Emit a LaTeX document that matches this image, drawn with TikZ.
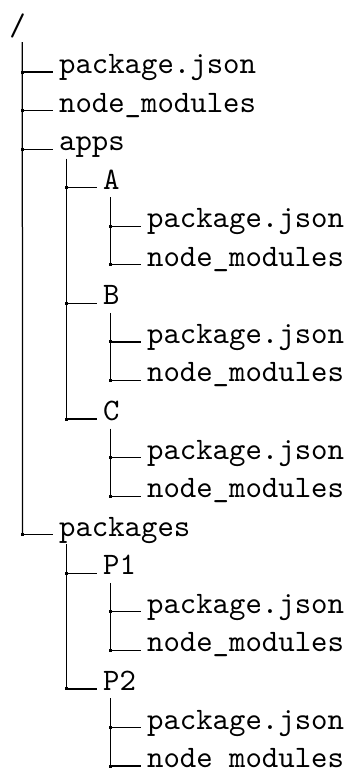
\documentclass[tikz,border=0pt]{standalone}
\usepackage{fontspec}
\usetikzlibrary{calc}
\begin{document}
\begin{tikzpicture}[x=0.32pt,y=-0.32pt,
  item/.style={anchor=base west,inner xsep=1.6pt,inner ysep=0pt,font=\ttfamily},
  branch/.style={line width=0.4pt}]
\useasboundingbox (0,0) rectangle (347,769);
% rows 38.56 apart, text x per level: 53.5 / 97.5 / 141.5
\node[item] (root) at (3.8,35) {/};
\node[item] (pj) at (53.5,{73.5+38.56*0}) {package.json};
\node[item] (nm) at (53.5,{73.5+38.56*1}) {node\_modules};
\node[item] (apps) at (53.5,{73.5+38.56*2}) {apps};
\node[item] (A) at (97.5,{73.5+38.56*3}) {A};
\node[item] (pjA) at (141.5,{73.5+38.56*4}) {package.json};
\node[item] (nmA) at (141.5,{73.5+38.56*5}) {node\_modules};
\node[item] (B) at (97.5,{73.5+38.56*6}) {B};
\node[item] (pjB) at (141.5,{73.5+38.56*7}) {package.json};
\node[item] (nmB) at (141.5,{73.5+38.56*8}) {node\_modules};
\node[item] (C) at (97.5,{73.5+38.56*9}) {C};
\node[item] (pjC) at (141.5,{73.5+38.56*10}) {package.json};
\node[item] (nmC) at (141.5,{73.5+38.56*11}) {node\_modules};
\node[item] (pkgs) at (53.5,{73.5+38.56*12}) {packages};
\node[item] (P1) at (97.5,{73.5+38.56*13}) {P1};
\node[item] (pjP1) at (141.5,{73.5+38.56*14}) {package.json};
\node[item] (nmP1) at (141.5,{73.5+38.56*15}) {node\_modules};
\node[item] (P2) at (97.5,{73.5+38.56*16}) {P2};
\node[item] (pjP2) at (141.5,{73.5+38.56*17}) {package.json};
\node[item] (nmP2) at (141.5,{73.5+38.56*18}) {node\_modules};
% branch stubs with junction dots
\foreach \n in {pj,nm,apps,A,pjA,nmA,B,pjB,nmB,C,pjC,nmC,pkgs,P1,pjP1,nmP1,P2,pjP2,nmP2}{
  \coordinate (d-\n) at ($(\n.base west)+(-31,-1.5)$);
  \draw[branch] (d-\n) -- ($(\n.base west)+(0,-1.5)$);
  \fill (d-\n) +(-1.5,-1.5) rectangle +(1.5,1.5);
}
% trunks
\draw[branch] ($(root.base west)+(18.5,7)$) -- (d-pkgs);
\draw[branch] ($(apps.base west)+(13,8)$) -- (d-C);
\draw[branch] ($(pkgs.base west)+(13,8)$) -- (d-P2);
\foreach \p/\q in {A/nmA,B/nmB,C/nmC,P1/nmP1,P2/nmP2}{
  \draw[branch] ($(\p.base west)+(13,8)$) -- (d-\q);
}
\end{tikzpicture}
\end{document}
